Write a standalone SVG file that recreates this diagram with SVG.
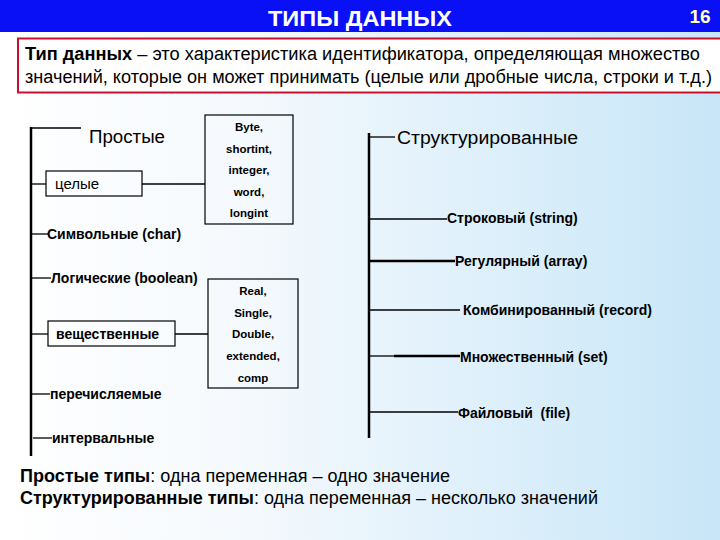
<svg xmlns="http://www.w3.org/2000/svg" width="720" height="540" viewBox="0 0 720 540">
<defs>
<linearGradient id="bg" x1="0" y1="0" x2="1" y2="0">
<stop offset="0" stop-color="#ffffff"/>
<stop offset="0.35" stop-color="#f4f9fd"/>
<stop offset="1" stop-color="#c8e6f8"/>
</linearGradient>
<style>
text{font-family:"Liberation Sans",Arial,sans-serif;fill:#000}
.b{font-weight:bold}
.ln{stroke:#000;stroke-width:1.3;fill:none}
.th{stroke:#000;stroke-width:2.5;fill:none}
.box{fill:none;stroke:#000;stroke-width:1.2}
.sm{font-size:11.5px;font-weight:bold;text-anchor:middle}
.lb{font-size:14px;font-weight:bold}
</style>
</defs>
<rect width="720" height="540" fill="url(#bg)"/>
<g id="header">
<rect x="0" y="0" width="720" height="32" fill="#0a10f5"/>
<text x="268" y="26" font-size="22" class="b" textLength="184" lengthAdjust="spacingAndGlyphs" style="fill:#fff">ТИПЫ ДАННЫХ</text>
<text x="700" y="23" font-size="19" class="b" text-anchor="middle" style="fill:#ffffc8">16</text>
</g>
<g id="definition">
<rect x="18" y="38.5" width="705" height="54" fill="#fff" stroke="#c8102e" stroke-width="2"/>
<text x="25" y="60" font-size="18" textLength="675" lengthAdjust="spacingAndGlyphs"><tspan class="b">Тип данных</tspan> – это характеристика идентификатора, определяющая множество</text>
<text x="25" y="83" font-size="18" textLength="687" lengthAdjust="spacingAndGlyphs">значений, которые он может принимать (целые или дробные числа, строки и т.д.)</text>
</g>
<g id="connectors">
<line class="th" x1="31" y1="127" x2="31" y2="456"/>
<line class="ln" x1="31" y1="128" x2="81" y2="128"/>
<line class="ln" x1="31" y1="184" x2="46" y2="184"/>
<line class="ln" x1="142" y1="184" x2="205" y2="184"/>
<line class="ln" x1="31" y1="234" x2="48" y2="234"/>
<line class="ln" x1="31" y1="278" x2="51" y2="278"/>
<line class="ln" x1="31" y1="334" x2="48" y2="334"/>
<line class="ln" x1="175" y1="334" x2="208" y2="334"/>
<line class="ln" x1="31" y1="394" x2="50" y2="394"/>
<line class="ln" x1="33" y1="438" x2="52" y2="438"/>
<line class="th" x1="369" y1="133" x2="369" y2="438"/>
<line class="ln" x1="369" y1="137" x2="395" y2="137"/>
<line class="ln" x1="369" y1="219" x2="447" y2="219"/>
<line class="th" x1="369" y1="261" x2="455" y2="261"/>
<line class="ln" x1="369" y1="310" x2="460" y2="310"/>
<line class="th" x1="394" y1="356" x2="460" y2="356"/>
<line class="ln" x1="369" y1="356" x2="394" y2="356"/>
<line class="ln" x1="369" y1="412" x2="458" y2="412"/>
</g>
<g id="prostye"><text x="89" y="143" font-size="18" textLength="76" lengthAdjust="spacingAndGlyphs">Простые</text></g>
<g id="tselye">
<rect class="box" x="46" y="171" width="96" height="25"/>
<text x="55" y="189" font-size="15">целые</text>
</g>
<g id="int-types">
<rect class="box" x="205" y="115" width="88" height="109"/>
<text class="sm" x="249" y="131">Byte,</text>
<text class="sm" x="249" y="153">shortint,</text>
<text class="sm" x="249" y="174">integer,</text>
<text class="sm" x="249" y="196">word,</text>
<text class="sm" x="249" y="217">longint</text>
</g>
<g id="char"><text x="47" y="239" class="lb">Символьные (char)</text></g>
<g id="bool"><text x="51" y="283" class="lb">Логические (boolean)</text></g>
<g id="real">
<rect class="box" x="48" y="321" width="127" height="25"/>
<text x="56" y="339" class="lb">вещественные</text>
</g>
<g id="real-types">
<rect class="box" x="208" y="279" width="90" height="109"/>
<text class="sm" x="253" y="295">Real,</text>
<text class="sm" x="253" y="317">Single,</text>
<text class="sm" x="253" y="338">Double,</text>
<text class="sm" x="253" y="360">extended,</text>
<text class="sm" x="253" y="382">comp</text>
</g>
<g id="enum"><text x="50" y="399" class="lb">перечисляемые</text></g>
<g id="interval"><text x="52" y="443" class="lb">интервальные</text></g>
<g id="struct"><text x="397" y="144" font-size="18" textLength="181" lengthAdjust="spacingAndGlyphs">Структурированные</text></g>
<g id="string"><text x="447" y="223" class="lb">Строковый (string)</text></g>
<g id="array"><text x="455" y="266" class="lb">Регулярный (array)</text></g>
<g id="record"><text x="463" y="315" class="lb">Комбинированный (record)</text></g>
<g id="set"><text x="460" y="362" class="lb">Множественный (set)</text></g>
<g id="file"><text x="458" y="418" class="lb" xml:space="preserve">Файловый  (file)</text></g>
<g id="summary">
<text x="20" y="482" font-size="18" textLength="430" lengthAdjust="spacingAndGlyphs"><tspan class="b">Простые типы</tspan>: одна переменная – одно значение</text>
<text x="20" y="504" font-size="18" textLength="578" lengthAdjust="spacingAndGlyphs"><tspan class="b">Структурированные типы</tspan>: одна переменная – несколько значений</text>
</g>
</svg>
